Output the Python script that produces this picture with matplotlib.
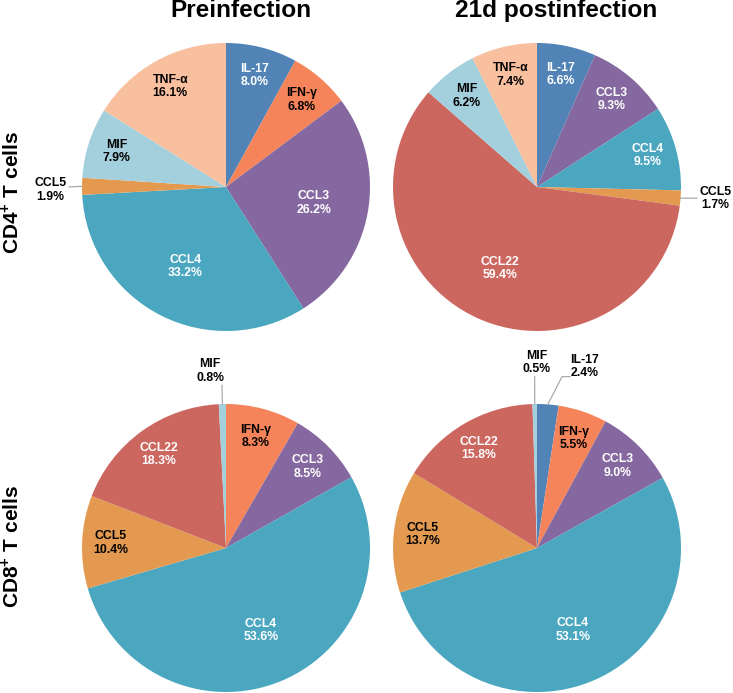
import numpy as np
import matplotlib
matplotlib.use("Agg")
import matplotlib.pyplot as plt

plt.rcParams['font.family'] = ['Liberation Sans', 'DejaVu Sans']
plt.rcParams['mathtext.fontset'] = 'custom'
plt.rcParams['mathtext.rm'] = 'Liberation Sans'
plt.rcParams['mathtext.bf'] = 'Liberation Sans:bold'

# data (clockwise from 12 o'clock)
cd4_pre_labels = ['IL-17', 'IFN-γ', 'CCL3', 'CCL4', 'CCL5', 'MIF', 'TNF-α']
cd4_pre_values = [8.0, 6.8, 26.2, 33.2, 1.9, 7.9, 16.1]

cd4_post_labels = ['IL-17', 'CCL3', 'CCL4', 'CCL5', 'CCL22', 'MIF', 'TNF-α']
cd4_post_values = [6.6, 9.3, 9.5, 1.7, 59.4, 6.2, 7.4]

cd8_pre_labels = ['IFN-γ', 'CCL3', 'CCL4', 'CCL5', 'CCL22', 'MIF']
cd8_pre_values = [8.3, 8.5, 53.6, 10.4, 18.3, 0.8]

cd8_post_labels = ['IL-17', 'IFN-γ', 'CCL3', 'CCL4', 'CCL5', 'CCL22', 'MIF']
cd8_post_values = [2.4, 5.5, 9.0, 53.1, 13.7, 15.8, 0.5]

col_titles = ['Preinfection', '21d postinfection']
row_titles = ['CD4$^{\\mathbf{+}}$ T cells', 'CD8$^{\\mathbf{+}}$ T cells']

colors = {
    'IL-17': '#5183B6',
    'IFN-γ': '#F6845A',
    'CCL3': '#8568A0',
    'CCL4': '#4BA7BF',
    'CCL5': '#E39A50',
    'CCL22': '#CC6760',
    'MIF': '#A4CFDD',
    'TNF-α': '#F8C09F',
}
white_text = ['IL-17', 'CCL3', 'CCL4', 'CCL22']

W, H = 733, 693
R = 144
# pie centres in pixels from top-left
panels = [
    ('cd4_pre', cd4_pre_labels, cd4_pre_values, (226, 187)),
    ('cd4_post', cd4_post_labels, cd4_post_values, (537, 187)),
    ('cd8_pre', cd8_pre_labels, cd8_pre_values, (226, 548)),
    ('cd8_post', cd8_post_labels, cd8_post_values, (537, 548)),
]

# labels placed outside with a leader line (in radius units)
outside = {
    ('cd4_pre', 'CCL5'): ((-1.22, -0.02), [(-1.09, 0.0)]),
    ('cd4_post', 'CCL5'): ((1.24, -0.08), [(1.11, -0.078)]),
    ('cd8_pre', 'MIF'): ((-0.11, 1.23), [(-0.028, 1.13)]),
    ('cd8_post', 'MIF'): ((0.0, 1.29), [(-0.016, 1.19)]),
    ('cd8_post', 'IL-17'): ((0.33, 1.26), [(0.174, 1.19), (0.23, 1.19)]),
}

fig = plt.figure(figsize=(W / 100, H / 100), dpi=100)
ax = fig.add_axes([0, 0, 1, 1])

for name, labels, values, (cx, cy) in panels:
    cy = H - cy
    wedges, _ = ax.pie(values, colors=[colors[l] for l in labels],
                       startangle=90, counterclock=False, radius=R,
                       center=(cx, cy), wedgeprops=dict(linewidth=0))
    for w, lab, v in zip(wedges, labels, values):
        mid = np.deg2rad((w.theta1 + w.theta2) / 2)
        txt = lab + '\n' + f'{v:.1f}%'
        tc = 'white' if lab in white_text else 'black'
        if (name, lab) in outside:
            (tx, ty), pts = outside[(name, lab)]
            xs = [cx + R * np.cos(mid)] + [cx + R * p[0] for p in pts]
            ys = [cy + R * np.sin(mid)] + [cy + R * p[1] for p in pts]
            ax.plot(xs, ys, color='#A0A0A0', lw=0.8)
            ax.text(cx + R * tx, cy + R * ty, txt, ha='center', va='center',
                    fontsize=8.8, fontweight='bold', color='black',
                    linespacing=1.15)
        else:
            rf = 0.8 if v < 20 else 0.62
            ax.text(cx + R * rf * np.cos(mid), cy + R * rf * np.sin(mid), txt,
                    ha='center', va='center', fontsize=8.8, fontweight='bold',
                    color=tc, linespacing=1.15)

ax.set_xlim(0, W)
ax.set_ylim(0, H)
ax.set_aspect('equal')
ax.axis('off')

fig.text(241 / W, 1 - 17 / H, col_titles[0], ha='center', va='baseline',
         fontsize=17.6, fontweight='bold')
fig.text(556 / W, 1 - 17 / H, col_titles[1], ha='center', va='baseline',
         fontsize=17.6, fontweight='bold')
fig.text(11 / W, 1 - 192 / H, row_titles[0], rotation=90, ha='center',
         va='center', fontsize=15, fontweight='bold')
fig.text(11 / W, 1 - 546 / H, row_titles[1], rotation=90, ha='center',
         va='center', fontsize=15, fontweight='bold')

fig.savefig('out.png', dpi=100)
